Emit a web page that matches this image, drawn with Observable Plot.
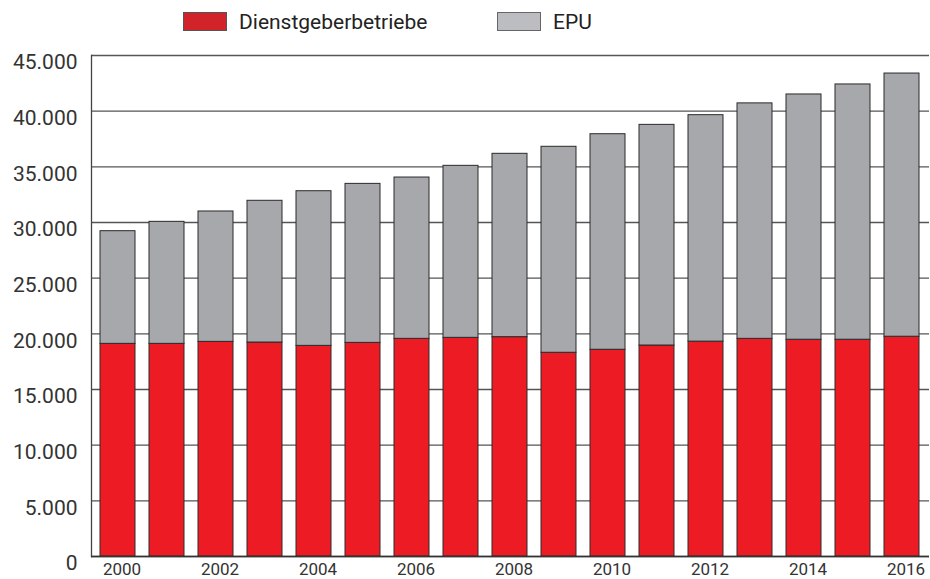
<!DOCTYPE html>
<html>
<head>
<meta charset="utf-8">
<script src="https://cdn.jsdelivr.net/npm/d3@7"></script>
<script src="https://cdn.jsdelivr.net/npm/@observablehq/plot@0.6"></script>
<style>
  body { margin: 0; background: #fff; font-family: Roboto, sans-serif; }
  #wrap { width: 930px; height: 579px; position: relative; }
  #legend { position: relative; width: 930px; height: 40px; }
  .sw { position: absolute; top: 12px; width: 44px; height: 19px; box-sizing: border-box; border: 1px solid #555; }
  .lt { position: absolute; top: 12px; font-size: 21px; line-height: 21px; color: #222; white-space: nowrap; }
</style>
</head>
<body>
<div id="wrap">
  <div id="legend">
    <div class="sw" style="left:183px;background:#d2232a;"></div>
    <div class="lt" style="left:239px;">Dienstgeberbetriebe</div>
    <div class="sw" style="left:497px;background:#bcbdc0;border-color:#666;"></div>
    <div class="lt" style="left:553px;">EPU</div>
  </div>
  <div id="chart"></div>
</div>
<script>
const years = ["2000","2001","2002","2003","2004","2005","2006","2007","2008","2009","2010","2011","2012","2013","2014","2015","2016"];
const dienstgeberbetriebe = [19100,19100,19280,19220,18920,19190,19550,19640,19700,18300,18570,18950,19300,19550,19470,19470,19740];
const epu = [10120,10960,11710,12730,13890,14280,14490,15450,16470,18500,19360,19820,20340,21150,22030,22930,23640];
const seriesNames = ["Dienstgeberbetriebe", "EPU"];
const seriesColors = ["#ed1c24", "#a7a8ac"];
const yTicks = [0,5000,10000,15000,20000,25000,30000,35000,40000,45000];
const xTickLabels = ["2000","2002","2004","2006","2008","2010","2012","2014","2016"];

const data = [];
years.forEach((y, i) => {
  data.push({year: y, series: seriesNames[0], value: dienstgeberbetriebe[i]});
  data.push({year: y, series: seriesNames[1], value: epu[i]});
});

const de = d3.formatLocale({decimal: ",", thousands: ".", grouping: [3], currency: ["", ""]});
const fmt = de.format(",");

const chart = Plot.plot({
  width: 930,
  height: 539,
  marginTop: 15,
  marginBottom: 23,
  marginLeft: 91,
  marginRight: 1,
  style: {fontFamily: "Roboto, sans-serif", color: "#333", background: "#fff"},
  x: {domain: years, paddingInner: 0.28, paddingOuter: 0.14, label: null},
  y: {domain: [0, 45000], label: null},
  color: {domain: seriesNames, range: seriesColors},
  marks: [
    Plot.ruleY(yTicks, {stroke: "#555", strokeWidth: 1.3}),
    Plot.barY(data, {x: "year", y: "value", fill: "series", order: seriesNames, stroke: "#2a2a2a", strokeWidth: 1}),
    Plot.frame({anchor: "left", stroke: "#444", strokeWidth: 1.3}),
    Plot.ruleY([0], {stroke: "#333", strokeWidth: 1.5}),
    Plot.axisY({ticks: yTicks, tickSize: 0, tickPadding: 14, tickFormat: fmt, fontSize: 21, dy: 7, label: null}),
    Plot.axisX({ticks: xTickLabels, tickSize: 0, tickPadding: 6, fontSize: 17, dx: 4, label: null, tickFormat: d => d})
  ]
});
document.getElementById("chart").appendChild(chart);
</script>
</body>
</html>
